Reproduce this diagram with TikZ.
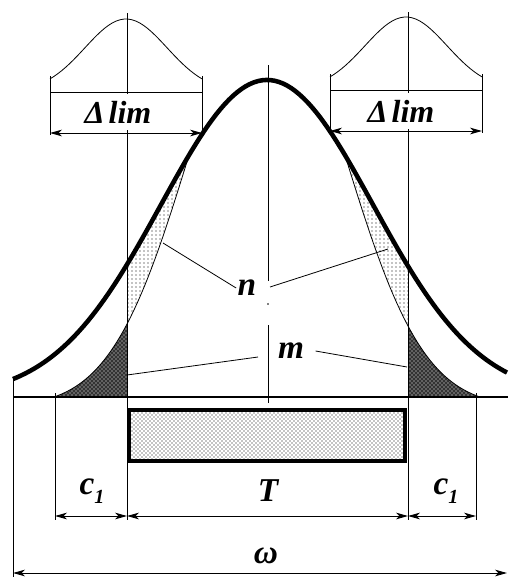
\documentclass[tikz,border=0pt]{standalone}
\usepackage{fontspec}
\setmainfont{Liberation Serif}
\usetikzlibrary{arrows.meta,patterns}
\tikzset{
  hair/.style={line width=0.6pt},
  lbl/.style={font=\fontsize{25}{25}\selectfont\bfseries\itshape, inner sep=1pt},
  dimarrow/.style={line width=0.7pt, {Stealth[length=9pt,width=5pt,inset=2.5pt]}-{Stealth[length=9pt,width=5pt,inset=2.5pt]}},
}
\newcommand{\cone}{c\raisebox{-7pt}{\fontsize{15}{15}\selectfont 1}}

\begin{document}
\begin{tikzpicture}[x=0.75pt,y=-0.75pt,
  declare function={gs(\t,\s)=exp(-0.5*(\t/\s)*(\t/\s));
    bigcurve(\t)=397-317*gs(\t-267,106);
    smallcurve(\t)=397-415*(gs(\t-267,78)-0.024);
    bellcurve(\t)=92-73*gs(\t,41);}]
\useasboundingbox (0,0) rectangle (508,579);
\fill[pattern=dots] plot[domain=127:189, samples=30] (\x,{smallcurve(\x)}) -- plot[domain=189:127, samples=30] (\x,{bigcurve(\x)}) -- cycle;
\fill[pattern=dots] plot[domain=345:408, samples=30] (\x,{smallcurve(\x)}) -- plot[domain=408:345, samples=30] (\x,{bigcurve(\x)}) -- cycle;
\fill[black!80] plot[domain=55:127, samples=30] (\x,{smallcurve(\x)}) -- (127,397) -- cycle;
\fill[pattern=crosshatch dots, pattern color=white] plot[domain=55:127, samples=30] (\x,{smallcurve(\x)}) -- (127,397) -- cycle;
\fill[black!80] plot[domain=408:479, samples=30] (\x,{smallcurve(\x)}) -- (408,397) -- cycle;
\fill[pattern=crosshatch dots, pattern color=white] plot[domain=408:479, samples=30] (\x,{smallcurve(\x)}) -- (408,397) -- cycle;
\draw[line width=3pt, pattern=crosshatch dots, pattern color=black] (129,410) rectangle (405,461);
\draw[hair] plot[domain=55:189, samples=40] (\x,{smallcurve(\x)});
\draw[hair] plot[domain=345:479, samples=40] (\x,{smallcurve(\x)});
\draw[line width=3.4pt] plot[domain=13:507, samples=120] (\x,{bigcurve(\x)});
\draw[line width=1.6pt] (13,397) -- (508,397);
\draw[hair] (127,13) -- (127,520);
\draw[hair] (408,12) -- (408,520);
\draw[hair] (55,393) -- (55,520);
\draw[hair] (476,393) -- (476,520);
\draw[hair] (13,378) -- (13,577);
\draw[hair] (268,65) -- (268,281) (268,325) -- (268,403);
\fill (268,304) circle (0.6pt);
\draw[hair] plot[domain=-76:76, samples=40] ({126+\x},{bellcurve(\x)});
\draw[hair] plot[domain=-76:76, samples=40] ({406+\x},{bellcurve(\x)-2});
\draw[hair] (50,76) -- (50,135) (202,76) -- (202,135);
\draw[hair] (330,74) -- (330,133) (482,74) -- (482,133);
\node[lbl, font=\fontsize{24}{24}\selectfont\bfseries\itshape, fill=white, minimum height=27pt] (dlimL) at (118,112) {Δ\kern3pt lim};
\node[lbl, font=\fontsize{24}{24}\selectfont\bfseries\itshape, fill=white, minimum height=27pt] (dlimR) at (401,111) {Δ\kern3pt lim};
\draw[hair] (50,92) -- (202,92);
\draw[hair] (330,90) -- (482,90);
\draw[dimarrow] (50,133) -- (202,133);
\draw[dimarrow] (330,131) -- (482,131);
\node[lbl] (n) at (247,288) {n};
\node[lbl] (m) at (291,351) {m};
\coordinate (nA) at (163,243);
\coordinate (nB0) at (270,287);
\coordinate (nB) at (388,249);
\coordinate (mA0) at (258,357);
\coordinate (mA) at (127,375);
\coordinate (mB) at (407,367);
\draw[hair] (n.west) -- (nA);
\draw[hair] (nB0) -- (nB);
\draw[hair] (mA0) -- (mA);
\draw[hair] (m.east) ++(10,0) -- (mB);
\node[lbl] (c1L) at (92,491) {\cone};
\node[lbl] (T) at (268,491) {T};
\node[lbl] (c1R) at (446,491) {\cone};
\node[lbl] (omega) at (266,556) {ω};
\draw[dimarrow] (55,516) -- (127,516);
\draw[dimarrow] (127,516) -- (408,516);
\draw[dimarrow] (408,516) -- (476,516);
\draw[dimarrow] (13,573) -- (507,573);
\end{tikzpicture}
\end{document}
